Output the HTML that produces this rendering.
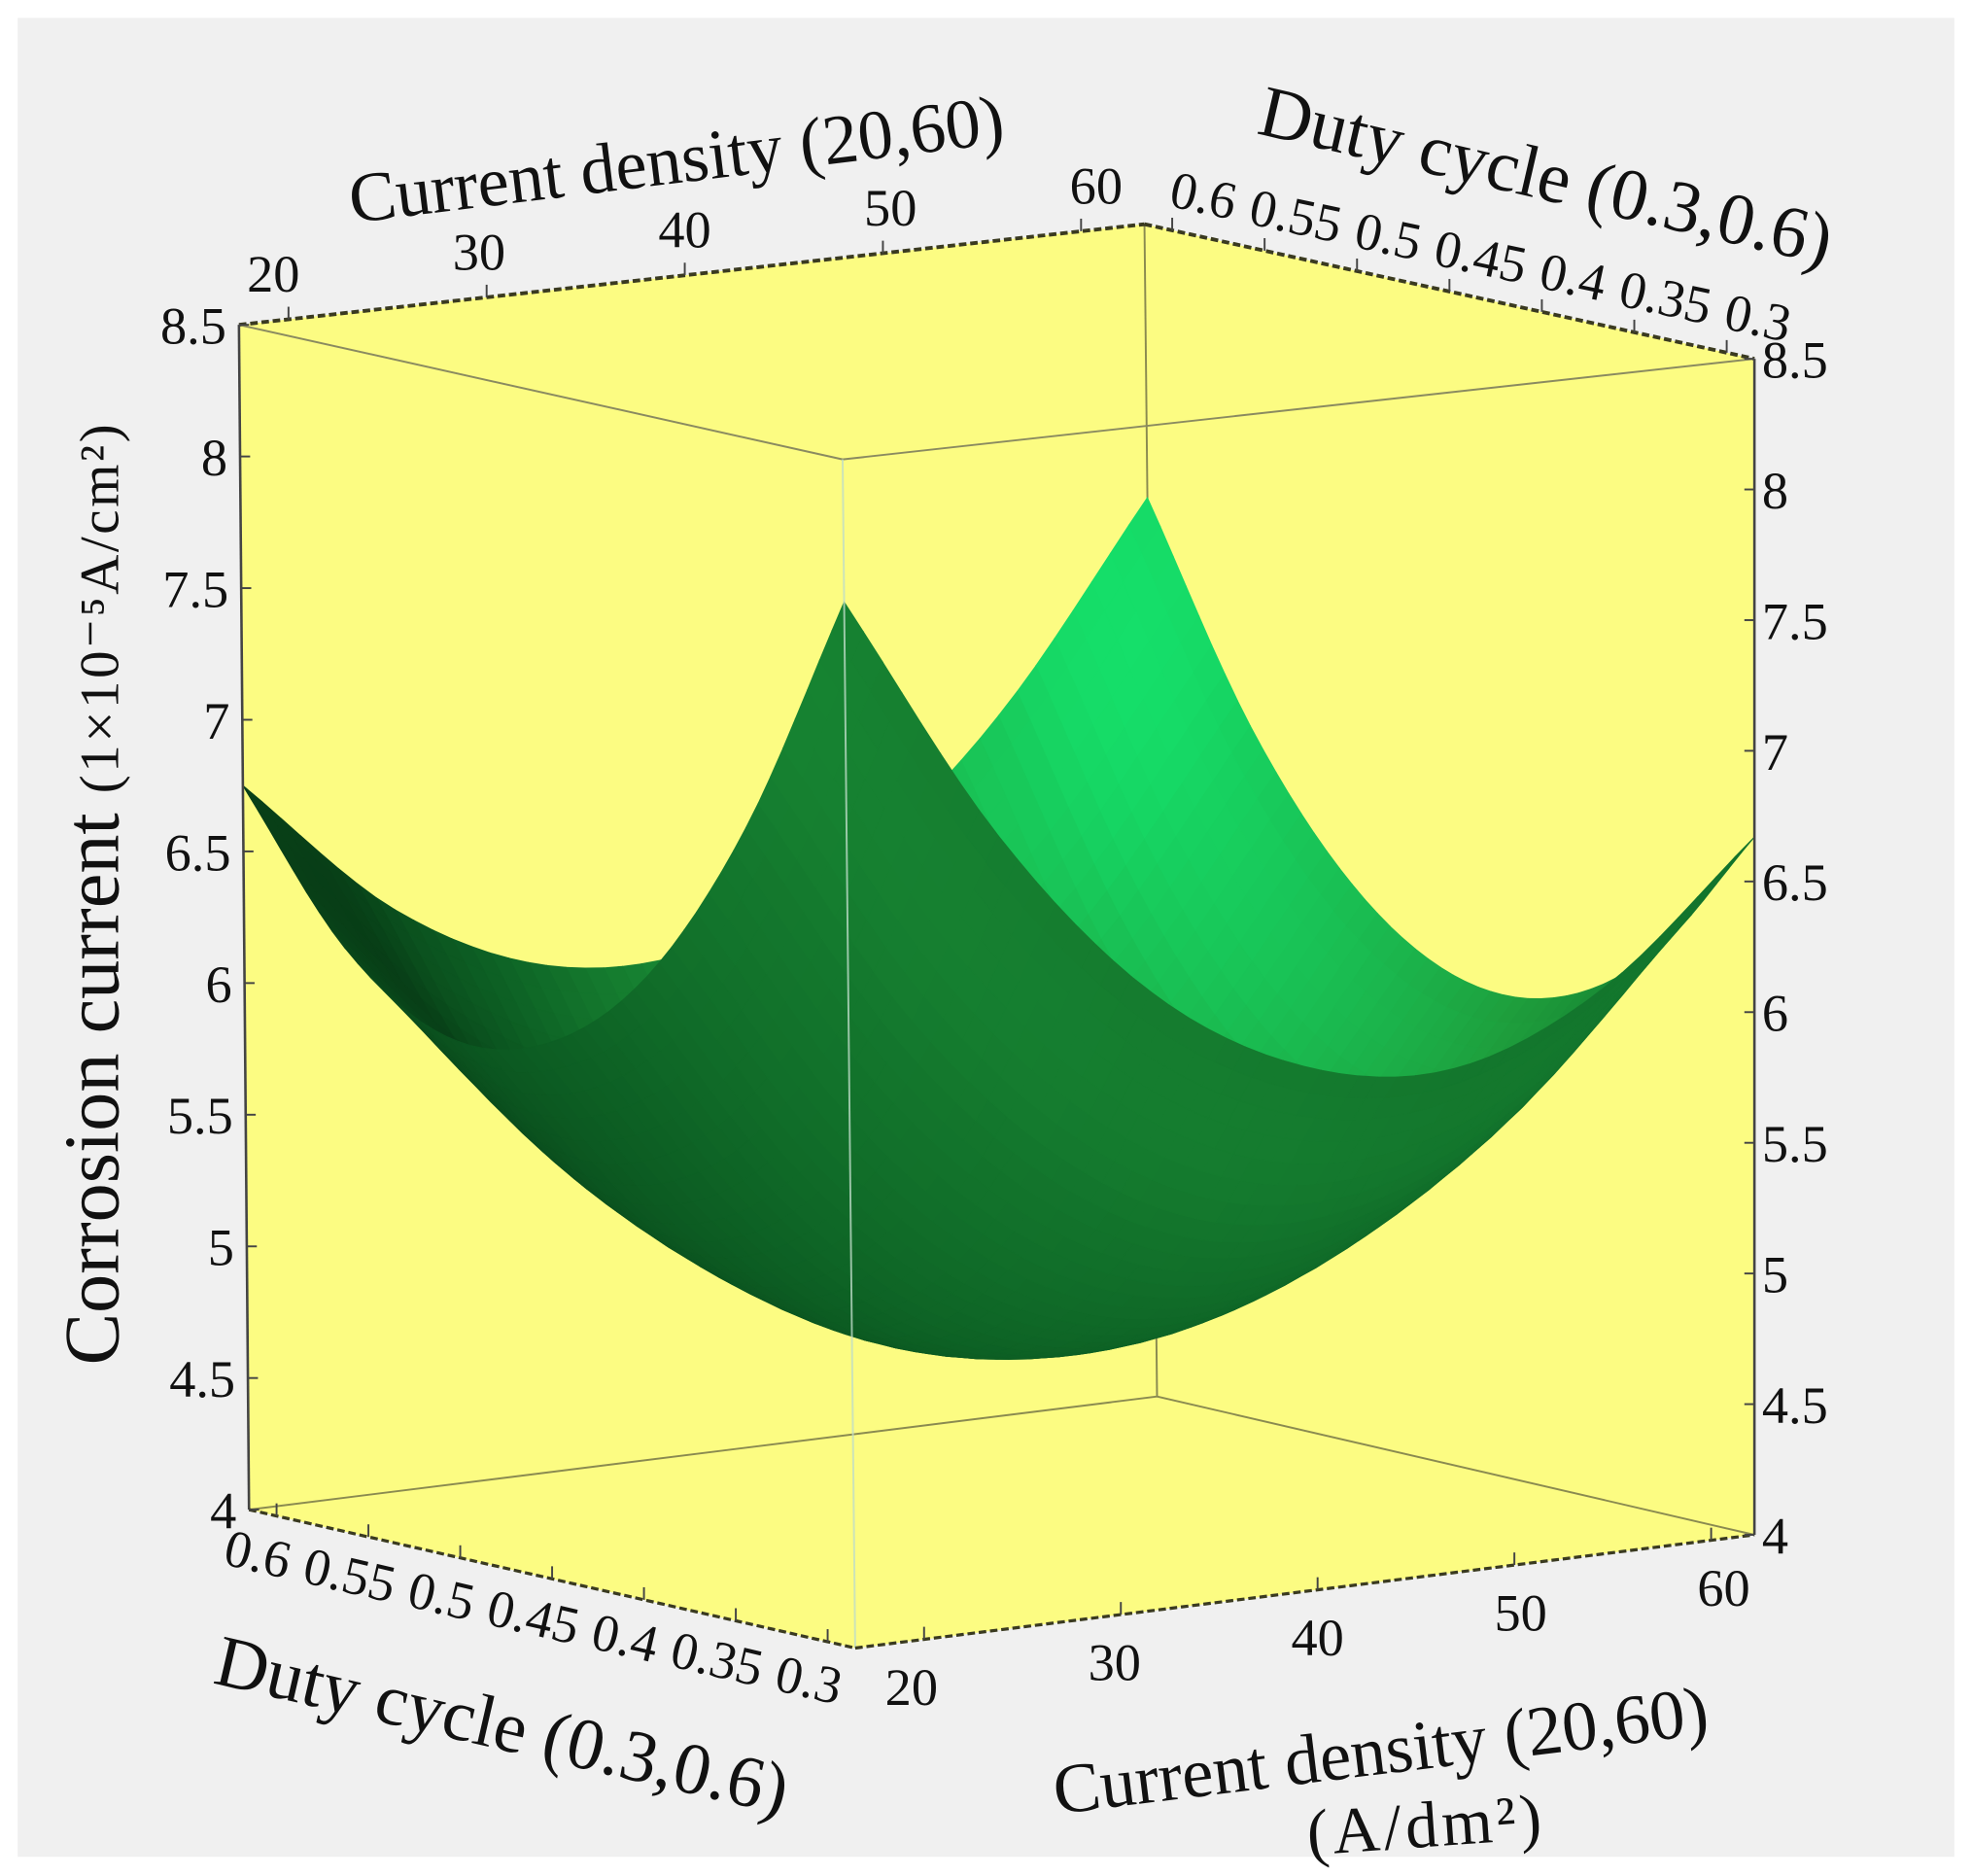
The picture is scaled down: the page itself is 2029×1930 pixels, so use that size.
<!DOCTYPE html>
<html><head><meta charset="utf-8"><style>
html,body{margin:0;padding:0;background:#fff;}
svg{display:block;}
text{font-family:"Liberation Serif",serif;fill:#111;}
</style></head><body>
<svg id="chart" width="2029" height="1930" viewBox="0 0 1568 1491" xmlns="http://www.w3.org/2000/svg">
<rect x="0" y="0" width="1568" height="1491" fill="#ffffff"/>
<rect x="14" y="14" width="1540" height="1462" fill="#f0f0f0"/>
<g id="back"></g>
<g id="surface"></g>
<g id="front"></g>
<g id="labels"></g>
</svg>
<script>
// ---- data ----
const currentDensity = [20, 26.67, 33.33, 40, 46.67, 53.33, 60];
const dutyCycle = [0.3, 0.35, 0.4, 0.45, 0.5, 0.55, 0.6];
// corrosion current z[dutyIndex][cdIndex] (1e-5 A/cm2)
const zRow030 = [7.96, 7.01, 6.35, 6.00, 5.92, 6.16, 6.67];
const zRow035 = [7.02, 6.14, 5.55, 5.25, 5.26, 5.55, 6.14];
const zRow040 = [6.37, 5.56, 5.03, 4.80, 4.86, 5.22, 5.88];
const zRow045 = [6.03, 5.28, 4.80, 4.63, 4.74, 5.17, 5.88];
const zRow050 = [5.97, 5.29, 4.89, 4.76, 4.93, 5.40, 6.14];
const zRow055 = [6.22, 5.61, 5.26, 5.20, 5.42, 5.91, 6.66];
const zRow060 = [6.75, 6.21, 5.93, 5.92, 6.16, 6.68, 7.45];
const zTicks = [4, 4.5, 5, 5.5, 6, 6.5, 7, 7.5, 8, 8.5];
const zTickLabels = ["4","4.5","5","5.5","6","6.5","7","7.5","8","8.5"];
const cdTicks = [20, 30, 40, 50, 60];
const dcTicks = [0.6, 0.55, 0.5, 0.45, 0.4, 0.35, 0.3];
const zGrid = [zRow030, zRow035, zRow040, zRow045, zRow050, zRow055, zRow060];

const NS = "http://www.w3.org/2000/svg";
const Fb=[680,1310], Rb=[1395,1220], Lb=[198,1200], Bb=[920,1110];
const Ft=[670,365], Rt=[1395,285], Lt=[190,258], Bt=[910,178];
const zMin=4, zMax=8.5, cdMin=20, cdMax=60, dcMin=0.3, dcMax=0.6;
function lerp(a,b,t){return [a[0]+(b[0]-a[0])*t, a[1]+(b[1]-a[1])*t];}
function bil(c00,c10,c01,c11,s,t){return lerp(lerp(c00,c10,s),lerp(c01,c11,s),t);}
function proj(cd,dc,z){
  const s=(cd-cdMin)/(cdMax-cdMin), t=(dc-dcMin)/(dcMax-dcMin), h=(z-zMin)/(zMax-zMin);
  const b=bil(Fb,Rb,Lb,Bb,s,t), tp=bil(Ft,Rt,Lt,Bt,s,t);
  return lerp(b,tp,h);
}
function el(tag,attrs,parent){const e=document.createElementNS(NS,tag);for(const k in attrs)e.setAttribute(k,attrs[k]);parent.appendChild(e);return e;}
const back=document.getElementById('back'), front=document.getElementById('front'), surf=document.getElementById('surface'), labels=document.getElementById('labels');
const pts=a=>a.map(p=>p.join(',')).join(' ');

const yb=el('polygon',{points:pts([Lt,Bt,Rt,Rb,Fb,Lb]),fill:'#fcfc82'},back);


function line(a,b,parent,stroke,w,name,dash){const l=el('line',{x1:a[0],y1:a[1],x2:b[0],y2:b[1],stroke:stroke,'stroke-width':w},parent);if(dash)l.setAttribute('stroke-dasharray',dash);return l;}
line(Lb,Bb,back,'#8a8a50',1.5,'back-floor-edge-left');
line(Bb,Rb,back,'#8a8a50',1.5,'back-floor-edge-right');
line(Bb,Bt,back,'#8a8a50',1.5,'back-vertical-edge');
line(Lt,Bt,back,'#3a3a20',3,'top-back-edge-left','6 3');
line(Bt,Rt,back,'#3a3a20',3,'top-back-edge-right','6 3');

const nC=currentDensity.length, nD=dutyCycle.length;
function gv(j,i){
  if(i<0) return 2*gv(j,0)-gv(j,1);
  if(i>nC-1) return 2*gv(j,nC-1)-gv(j,nC-2);
  if(j<0) return 2*gv(0,i)-gv(1,i);
  if(j>nD-1) return 2*gv(nD-1,i)-gv(nD-2,i);
  return zGrid[j][i];
}
function cr(p0,p1,p2,p3,t){return 0.5*(2*p1+(-p0+p2)*t+(2*p0-5*p1+4*p2-p3)*t*t+(-p0+3*p1-3*p2+p3)*t*t*t);}
function zSmooth(x,y){
  const i=Math.min(Math.floor(x),nC-2), j=Math.min(Math.floor(y),nD-2), fx=x-i, fy=y-j;
  const r=[];
  for(let k=-1;k<=2;k++) r.push(cr(gv(j+k,i-1),gv(j+k,i),gv(j+k,i+1),gv(j+k,i+2),fx));
  return cr(r[0],r[1],r[2],r[3],fy);
}
const SUB=8, N=(nC-1)*SUB;
function zAt(i,j){return zSmooth(i/SUB,j/SUB);}
function cdAt(i){return cdMin+(cdMax-cdMin)*i/N;}
function dcAt(j){return dcMin+(dcMax-dcMin)*j/N;}
function ramp(v){
  const stops=[[0,[4,40,14]],[0.3,[13,96,36]],[0.6,[30,158,60]],[1,[18,246,122]]];
  v=Math.max(0,Math.min(1,v));
  for(let k=0;k<stops.length-1;k++){const [a,ca]=stops[k],[b,cb]=stops[k+1];if(v<=b){const f=(v-a)/(b-a);return 'rgb('+ca.map((x,m)=>Math.round(x+(cb[m]-x)*f)).join(',')+')';}}
}
const quads=[];
for(let j=0;j<N;j++)for(let i=0;i<N;i++){
  const z00=zAt(i,j),z10=zAt(i+1,j),z01=zAt(i,j+1),z11=zAt(i+1,j+1);
  const gx=((z10-z00)+(z11-z01))/2*N/2, gy=((z01-z00)+(z11-z10))/2*N/2;
  const s=gx+gy;
  const v=0.26+(s>0?0.13*s:0.035*(-s))+0.04*(gx-gy);
  quads.push({depth:i+j,p:[proj(cdAt(i),dcAt(j),z00),proj(cdAt(i+1),dcAt(j),z10),proj(cdAt(i+1),dcAt(j+1),z11),proj(cdAt(i),dcAt(j+1),z01)],c:ramp(v)});
}
quads.sort((a,b)=>b.depth-a.depth);
for(const q of quads){
  const pg=el('polygon',{points:pts(q.p.map(p=>[p[0].toFixed(1),p[1].toFixed(1)])),fill:q.c,stroke:q.c,'stroke-width':0.8},surf);
  
  
}

line(Lt,Ft,front,'#8a8a60',1.5,'top-front-edge-left');
line(Ft,Rt,front,'#8a8a60',1.5,'top-front-edge-right');
line(Ft,Fb,front,'rgba(190,220,200,0.8)',1.5,'front-vertical-edge');
line(Lt,Lb,front,'#444',2,'z-axis-left');
line(Rt,Rb,front,'#444',2,'z-axis-right');
line(Lb,Fb,front,'#3a3a20',2.5,'floor-edge-duty','6 3');
line(Fb,Rb,front,'#3a3a20',2.5,'floor-edge-current','6 3');

function txt(str,x,y,size,anchor,rot,name,extra){
  const t=el('text',{x:x,y:y,'font-size':size,'text-anchor':anchor},labels);
  if(rot)t.setAttribute('transform','rotate('+rot+' '+x+' '+y+')');
  if(extra)for(const k in extra)t.setAttribute(k,extra[k]);
  t.textContent=str;
  
  
  return t;
}
zTicks.forEach((z,k)=>{
  const pl=lerp(Lb,Lt,(z-zMin)/(zMax-zMin)), pr=lerp(Rb,Rt,(z-zMin)/(zMax-zMin));
  line([pl[0],pl[1]],[pl[0]+8,pl[1]],front,'#444',1.5,'z-tick-left');
  line([pr[0]-8,pr[1]],[pr[0],pr[1]],front,'#444',1.5,'z-tick-right');
  txt(zTickLabels[k],pl[0]-10,pl[1]+15,42,'end',0,'z-tick-label-left');
  txt(zTickLabels[k],pr[0]+6,pr[1]+15,42,'start',0,'z-tick-label-right');
});
const cdLo=17.5, cdHi=63.2;
cdTicks.forEach(c=>{
  const f=(c-cdLo)/(cdHi-cdLo);
  const p=lerp(Lt,Bt,f);
  line(p,[p[0],p[1]-10],front,'#444',1.5,'cd-tick-top');
  txt(String(c),p[0]+(c-40)*0.6,p[1]-22,42,'middle',0,'cd-tick-label-top');
  const q=lerp(Fb,Rb,(c-cdLo+1)/(cdHi-cdLo));
  line(q,[q[0],q[1]-10],front,'#444',1.5,'cd-tick-bottom');
  txt(String(c),q[0]+(c-40)*0.5,q[1]+52,42,'middle',0,'cd-tick-label-bottom');
});
const dcLo=0.615, dcHi=0.285;
dcTicks.forEach(d=>{
  const f=(d-dcLo)/(dcHi-dcLo);
  const p=lerp(Bt,Rt,f);
  line(p,[p[0],p[1]-10],front,'#444',1.5,'dc-tick-top');
  txt(String(d),p[0]+22,p[1]-14,42,'middle',12,'dc-tick-label-top');
  const q=lerp(Lb,Fb,f);
  line(q,[q[0],q[1]-10],front,'#444',1.5,'dc-tick-bottom');
  txt(String(d),q[0]-18,q[1]+44,42,'middle',13,'dc-tick-label-bottom');
});
txt('Current density (20,60)',540,145,56,'middle',-7,'cd-axis-title-top');
txt('Duty cycle (0.3,0.6)',1225,158,58,'middle',13,'dc-axis-title-top');
txt('Duty cycle (0.3,0.6)',395,1390,58,'middle',13,'dc-axis-title-bottom');
txt('Current density (20,60)',1100,1410,56,'middle',-7,'cd-axis-title-bottom');
txt('(A/dm²)',1135,1468,52,'middle',-4,'cd-axis-unit-bottom',{'letter-spacing':'3'});
const yt=el('text',{x:0,y:0,'font-size':62,'text-anchor':'middle',transform:'translate(94,710) rotate(-90)'},labels);


yt.innerHTML='Corrosion current <tspan font-size="44" letter-spacing="2">(1×10⁻⁵A/cm²)</tspan>';
</script>
</body></html>
